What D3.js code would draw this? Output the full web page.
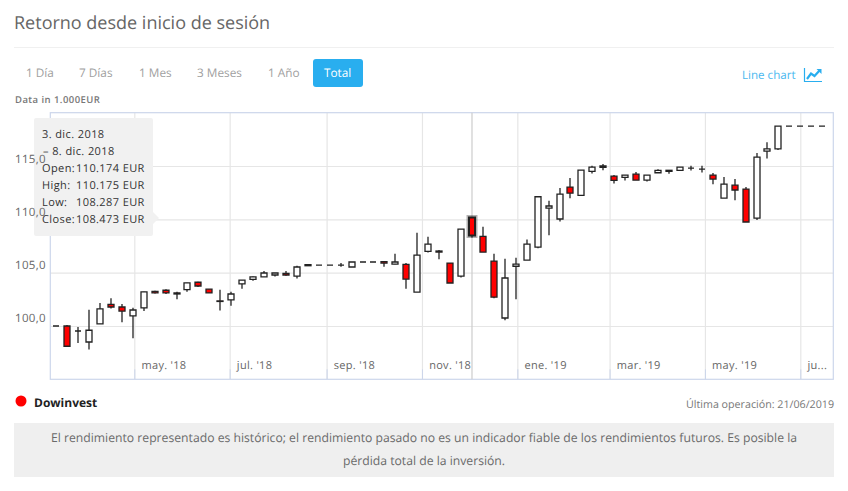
<!DOCTYPE html>
<html>
<head>
<meta charset="utf-8">
<script src="https://cdn.jsdelivr.net/npm/d3@7"></script>
<style>
  html, body { margin: 0; padding: 0; background: #fff; }
  svg { display: block; font-family: "Open Sans", sans-serif; }
  text { text-rendering: geometricPrecision; }
</style>
</head>
<body>
<div id="master"></div>
<script>
// weekly candles, values in thousands of EUR
const firstWeek = "2018-03-12"
const opens = [100, 100, 99.53, 98.5, 100.2, 102.03, 101.78, 100.94, 101.7, 103.25, 103.35, 103.1, 103.4, 104.1, 103.45, 102.35, 102.45, 103.95,
  104.37, 104.6, 104.78, 104.93, 104.68, 105.75, 105.7, 105.7, 105.7, 105.53, 106, 106, 106.03, 105.8, 105.78, 103.18, 107, 107.03,
  105.9, 104.68, 110.174, 108.4, 106.09, 100.75, 105.6, 106.18, 107.4, 111.05, 110.03, 113.03, 112.25, 114.5, 115, 114.05, 113.93, 114.24,
  113.68, 114.37, 114.6, 114.59, 114.81, 114.71, 114.15, 111.99, 113.2, 112.84, 110.12, 116.4, 116.6, 118.75, 118.75, 118.75, 118.75]
const highs = [100, 100.1, 99.9, 101.53, 102.15, 102.6, 102.05, 101.7, 103.2, 103.3, 103.45, 103.2, 104.05, 104.15, 103.45, 103.4, 103.2, 104.3,
  104.65, 105.15, 104.97, 105.15, 105.65, 105.75, 105.7, 105.7, 105.9, 106, 106, 106, 106.1, 106.78, 105.9, 108.75, 108.37, 107.12,
  105.9, 109.09, 110.175, 109.3, 106.77, 106.3, 106.4, 108.1, 112.12, 111.75, 112.93, 113.87, 114.62, 115.03, 115.2, 114.15, 114.15, 114.43,
  114.15, 114.7, 114.6, 114.9, 115.03, 115.03, 114.34, 113.96, 113.78, 113.03, 116.22, 117.24, 118.75, 118.75, 118.75, 118.75, 118.75]
const lows = [100, 98.1, 98.4, 97.8, 100.2, 101.65, 100.35, 98.85, 101.4, 103.05, 103, 102.5, 103.2, 103.65, 103.1, 101.45, 101.9, 103.5,
  104.25, 104.6, 104.65, 104.7, 104.46, 105.65, 105.7, 105.7, 105.56, 105.53, 106, 106, 105.56, 105.8, 103.5, 103.18, 106.9, 106.25,
  104.03, 104.55, 108.287, 106.93, 102.59, 100.53, 102.5, 106.18, 107.28, 108.5, 109.8, 111.97, 112.25, 114.3, 114.6, 113.37, 113.65, 113.68,
  113.55, 114.37, 114.28, 114.59, 114.59, 114.4, 113.28, 111.99, 111.78, 109.75, 109.93, 115.7, 116.5, 118.75, 118.75, 118.75, 118.75]
const closes = [100, 98.1, 99.53, 99.6, 101.6, 101.78, 101.4, 101.5, 103.2, 103.1, 103.1, 103, 104.05, 103.75, 103.1, 102.3, 103, 104.3,
  104.6, 104.97, 104.97, 104.78, 105.53, 105.65, 105.7, 105.7, 105.7, 106, 106, 106, 105.9, 106, 104.4, 106.65, 107.68, 106.93,
  104.03, 109.09, 108.473, 106.93, 102.7, 104.5, 105.8, 107.68, 112.12, 111.25, 112.37, 112.46, 114.62, 114.9, 114.87, 113.65, 114.15, 113.68,
  114.15, 114.6, 114.5, 114.9, 114.81, 114.71, 113.78, 113.3, 112.75, 109.75, 115.84, 116.6, 118.75, 118.75, 118.75, 118.75, 118.75]

const yTicks = [100, 105, 110, 115]
const xTickDates = ["2018-05-01", "2018-07-01", "2018-09-01", "2018-11-01", "2019-01-01", "2019-03-01", "2019-05-01", "2019-07-01"]
const xTickLabels = ["may. '18", "jul. '18", "sep. '18", "nov. '18", "ene. '19", "mar. '19", "may. '19", "ju..."]
const ranges = ["1 Día", "7 Días", "1 Mes", "3 Meses", "1 Año", "Total"]
const rangeX = [26, 79, 139, 197, 268, 324]
const hovered = 38
const tooltipRows = [["Open:", "110.174 EUR"], ["High:", "110.175 EUR"], ["Low:", "108.287 EUR"], ["Close:", "108.473 EUR"]]

let parse = d3.utcParse("%Y-%m-%d")
let weeks = opens.map((d, i) => d3.utcDay.offset(parse(firstWeek), i * 7))

let plotL = 50.3, plotR = 833.3, plotT = 112.7, plotB = 379.3
let blue = "#29aeef"

let svg = d3.select("#master").append("svg").attr("width", 848).attr("height", 491)

// header
svg.append("text").attr("x", 14).attr("y", 29).attr("font-size", 18).attr("fill", "#666").text("Retorno desde inicio de sesión")
svg.append("line").attr("x1", 14).attr("x2", 834).attr("y1", 47.5).attr("y2", 47.5).attr("stroke", "#f0f0f0")

svg.append("rect").attr("x", 313).attr("y", 59).attr("width", 50).attr("height", 28).attr("rx", 3).attr("fill", blue)
svg.selectAll(".range").data(ranges).enter().append("text")
  .attr("class", "range")
  .attr("x", (d, i) => rangeX[i]).attr("y", 77)
  .attr("font-size", 11.8)
  .attr("fill", d => d == "Total" ? "#fff" : "#a0a0a0")
  .text(d => d)

svg.append("text").attr("x", 742).attr("y", 79).attr("font-size", 11.6).attr("fill", "#4ab8ef").text("Line chart")
// line chart icon
svg.append("path").attr("d", "M804.5 68V81.5H822").attr("fill", "none").attr("stroke", blue).attr("stroke-width", 1.2)
svg.append("path").attr("d", "M807 79L811 73.5L814.5 76L820 70").attr("fill", "none").attr("stroke", blue).attr("stroke-width", 2.2)
svg.append("path").attr("d", "M816.5 69H821.5V74Z").attr("fill", blue)

svg.append("text").attr("x", 15).attr("y", 103).attr("font-size", 9.5).attr("font-weight", 600).attr("letter-spacing", 0.45).attr("fill", "#777").text("Data in 1.000EUR")

// scales
let x = d3.scaleUtc().domain([parse(xTickDates[0]), parse(xTickDates[7])]).range([134.3, 800.3])
let y = d3.scaleLinear().domain([95, 120]).range([plotB, plotT])

// grid
let yGrid = d3.axisLeft(y).tickValues(yTicks).tickSize(plotL - plotR).tickFormat("")
let yAxis = d3.axisLeft(y).tickValues(yTicks).tickSize(0).tickFormat(d => d3.format(".1f")(d).replace(".", ","))
let xAxis = d3.axisBottom(x).tickValues(xTickDates.map(parse)).tickSize(plotT - plotB).tickFormat((d, i) => xTickLabels[i])

let gGrid = svg.append("g").attr("transform", `translate(${plotL},0)`).call(yGrid)
gGrid.select(".domain").remove()
gGrid.selectAll("line").attr("stroke", "#e6e6e6").attr("stroke-width", 1.2)

let gx = svg.append("g").attr("transform", `translate(0,${plotB})`).call(xAxis)
gx.select(".domain").remove()
gx.selectAll("line").attr("stroke", "#e6e6e6").attr("stroke-width", 1.2)
gx.selectAll(".tick").append("line").attr("y2", -10).attr("stroke", "#ccd6eb")
gx.selectAll("text").attr("y", -10).attr("dy", null).attr("x", 6.7)
  .attr("text-anchor", "start").attr("font-family", "Open Sans").attr("font-size", 11).attr("letter-spacing", 0.3).attr("fill", "#666")

// frame
svg.append("rect").attr("x", plotL).attr("y", plotT).attr("width", plotR - plotL).attr("height", plotB - plotT)
  .attr("fill", "none").attr("stroke", "#ccd6eb").attr("stroke-width", 1.2)

// crosshair
svg.append("line").attr("x1", x(weeks[hovered])).attr("x2", x(weeks[hovered])).attr("y1", plotT).attr("y2", plotB)
  .attr("stroke", "#ccc").attr("stroke-width", 1.2)

// candles
let candles = svg.append("g").selectAll("g").data(weeks).enter().append("g")
  .attr("transform", d => `translate(${Math.round(x(d))},0)`)

candles.append("line")
  .attr("y1", (d, i) => y(highs[i])).attr("y2", (d, i) => y(lows[i]))
  .attr("stroke", "#222").attr("stroke-width", 1.3)

// bodies are paths so that open == close still draws a dash
let body = (d, i) => {
  let p = d3.path()
  p.moveTo(-3, y(opens[i]))
  p.lineTo(3, y(opens[i]))
  p.lineTo(3, y(closes[i]))
  p.lineTo(-3, y(closes[i]))
  p.closePath()
  return p.toString()
}

candles.append("path")
  .attr("d", body)
  .attr("fill", (d, i) => closes[i] < opens[i] ? "#f00" : "#fff")
  .attr("stroke", "#222").attr("stroke-width", (d, i) => i == hovered ? 2 : 1.3)

// hover halo on the highlighted candle
d3.select(candles.nodes()[hovered]).insert("path", "line")
  .attr("d", body(null, hovered))
  .attr("fill", "none").attr("stroke", "rgba(0,0,0,0.3)").attr("stroke-width", 5)

// tooltip
let tip = svg.append("g")
tip.append("path")
  .attr("d", "M36 118H151a2 2 0 0 1 2 2V212L159 218L153 224V234a2 2 0 0 1 -2 2H36a2 2 0 0 1 -2 -2V120a2 2 0 0 1 2 -2Z")
  .attr("fill", "#f1f1f1")
tip.append("text").attr("x", 42).attr("y", 138).text("3. dic. 2018")
tip.append("text").attr("x", 43).attr("y", 155).text("– 8. dic. 2018")
tooltipRows.forEach((r, i) => {
  tip.append("text").attr("x", 42).attr("y", 172 + i * 17).text(r[0])
  tip.append("text").attr("x", 76).attr("y", 172 + i * 17).text(r[1])
})
tip.selectAll("text").attr("font-size", 11).attr("letter-spacing", 0.4).attr("fill", "#333")

// axis labels sit above the tooltip
let gy = svg.append("g").attr("transform", `translate(${plotL},0)`).call(yAxis)
gy.select(".domain").remove()
gy.selectAll("line").remove()
gy.selectAll("text").attr("x", -35.3).attr("dy", null).attr("y", -4)
  .attr("text-anchor", "start").attr("font-family", "Open Sans").attr("font-size", 11.5).attr("letter-spacing", 0.3).attr("fill", "#666")

// legend and notice
svg.append("circle").attr("cx", 21).attr("cy", 401).attr("r", 5.5).attr("fill", "#f00")
svg.append("text").attr("x", 34).attr("y", 407).attr("font-size", 12).attr("font-weight", 700).attr("fill", "#222").text("Dowinvest")
svg.append("text").attr("x", 834).attr("y", 408).attr("text-anchor", "end").attr("font-size", 10.7).attr("fill", "#777").text("Última operación: 21/06/2019")

svg.append("rect").attr("x", 14).attr("y", 423).attr("width", 820).attr("height", 54).attr("fill", "#efefef")
svg.append("text").attr("x", 424).attr("y", 442).attr("text-anchor", "middle").attr("font-size", 12.2).attr("fill", "#6a6a6a")
  .text("El rendimiento representado es histórico; el rendimiento pasado no es un indicador fiable de los rendimientos futuros. Es posible la")
svg.append("text").attr("x", 424).attr("y", 465).attr("text-anchor", "middle").attr("font-size", 12.2).attr("fill", "#6a6a6a")
  .text("pérdida total de la inversión.")
</script>
</body>
</html>
